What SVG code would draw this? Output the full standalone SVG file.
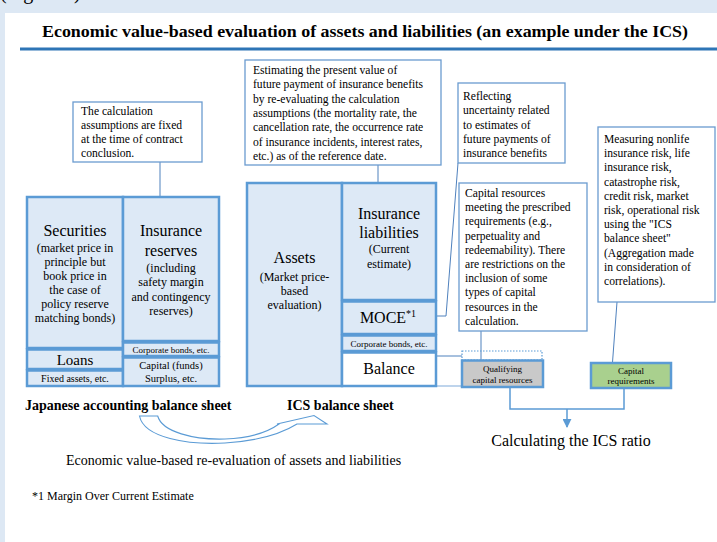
<svg xmlns="http://www.w3.org/2000/svg" width="717" height="542" viewBox="0 0 717 542">
  <style>
    text { font-family: "Liberation Serif", "Times New Roman", serif; fill: #000; }
    .big { font-size: 16px; }
    .mid { font-size: 12px; }
    .note { font-size: 11.6px; }
    .c { text-anchor: middle; }
    .b { font-weight: bold; }
    .sheet { fill: #dde9f6; stroke: #5b9bd5; stroke-width: 2.5; }
    .white { fill: #ffffff; stroke: #5b9bd5; stroke-width: 2.5; }
    .callout { fill: #ffffff; stroke: #6a9bd0; stroke-width: 1.3; }
    .conn { fill: none; stroke: #4f81bd; stroke-width: 1; }
    .brace { fill: none; stroke: #5b9bd5; stroke-width: 1.5; }
  </style>
  <defs>
    <marker id="arrow" viewBox="0 0 10 10" refX="9" refY="5" markerWidth="6" markerHeight="6" orient="auto">
      <path d="M0,0 L10,5 L0,10 z" fill="#5b9bd5"/>
    </marker>
  </defs>

  <!-- page background and panel -->
  <rect x="0" y="0" width="717" height="542" fill="#dde8f4"/>
  <text x="0" y="-1.5" font-size="20">(Figure 2)</text>
  <rect x="5" y="13" width="712" height="529" fill="#ffffff"/>

  <!-- heading -->
  <g id="title">
    <text x="365" y="37" class="c b" font-size="16" textLength="646" lengthAdjust="spacingAndGlyphs">Economic value-based evaluation of assets and liabilities (an example under the ICS)</text>
    <rect x="20" y="47.5" width="697" height="3" fill="#2e75b6"/>
  </g>

  <!-- connectors -->
  <g id="connectors">
    <line class="conn" x1="160" y1="162" x2="160" y2="212"/>
    <line class="conn" x1="378" y1="165" x2="378" y2="198"/>
    <polyline class="conn" points="431,316 446,316 458,163"/>
    <line class="conn" x1="481" y1="331" x2="481" y2="362"/>
    <line class="conn" x1="617" y1="302" x2="612" y2="369"/>
    <line class="conn" x1="418" y1="356" x2="462" y2="356"/>
    <line x1="437" y1="386" x2="462" y2="386" stroke="#a9c6e6" stroke-width="1.5"/>
    <polyline class="brace" points="510,388 510,409 624,409 624,389"/>
    <line class="brace" x1="567" y1="409" x2="567" y2="427" marker-end="url(#arrow)"/>
  </g>

  <!-- Japanese accounting balance sheet -->
  <g id="jp-securities">
    <rect class="sheet" x="27" y="197" width="96" height="151"/>
    <text class="big c" x="75" y="236">Securities</text>
    <text class="mid c" x="75" y="252">(market price in</text>
    <text class="mid c" x="75" y="266">principle but</text>
    <text class="mid c" x="75" y="280">book price in</text>
    <text class="mid c" x="75" y="294">the case of</text>
    <text class="mid c" x="75" y="308">policy reserve</text>
    <text class="mid c" x="75" y="322">matching bonds)</text>
  </g>
  <g id="jp-loans">
    <rect class="sheet" x="27" y="349.5" width="96" height="19.5"/>
    <text class="c" x="75" y="365" font-size="15">Loans</text>
  </g>
  <g id="jp-fixed">
    <rect class="sheet" x="27" y="370.5" width="96" height="15.5"/>
    <text class="c" x="75" y="382" font-size="10">Fixed assets, etc.</text>
  </g>
  <g id="jp-reserves">
    <rect class="sheet" x="123" y="197" width="96" height="144"/>
    <text class="big c" x="171" y="236">Insurance</text>
    <text class="big c" x="171" y="256">reserves</text>
    <text class="mid c" x="171" y="272">(including</text>
    <text class="mid c" x="171" y="286">safety margin</text>
    <text class="mid c" x="171" y="300.5">and contingency</text>
    <text class="mid c" x="171" y="315">reserves)</text>
  </g>
  <g id="jp-bonds">
    <rect class="sheet" x="123" y="342.5" width="96" height="13.5"/>
    <text class="c" x="171" y="352.5" font-size="9">Corporate bonds, etc.</text>
  </g>
  <g id="jp-capital">
    <rect class="sheet" x="123" y="357.5" width="96" height="28.5"/>
    <text class="c" x="171" y="368.5" font-size="10.5">Capital (funds)</text>
    <text class="c" x="171" y="382" font-size="10.5">Surplus, etc.</text>
  </g>
  <g id="jp-note">
    <rect class="callout" x="73" y="102" width="129" height="60"/>
    <text class="note" x="81" y="115">The calculation</text>
    <text class="note" x="81" y="129">assumptions are fixed</text>
    <text class="note" x="81" y="143">at the time of contract</text>
    <text class="note" x="81" y="157">conclusion.</text>
  </g>

  <!-- ICS balance sheet -->
  <g id="ics-assets">
    <rect class="sheet" x="247" y="183" width="95" height="203"/>
    <text class="big c" x="294.5" y="263">Assets</text>
    <text class="mid c" x="294.5" y="281">(Market price-</text>
    <text class="mid c" x="294.5" y="295">based</text>
    <text class="mid c" x="294.5" y="309">evaluation)</text>
  </g>
  <g id="ics-liabilities">
    <rect class="sheet" x="342" y="183" width="94" height="117"/>
    <text class="big c" x="389" y="219">Insurance</text>
    <text class="big c" x="389" y="238">liabilities</text>
    <text class="mid c" x="389" y="253">(Current</text>
    <text class="mid c" x="389" y="268">estimate)</text>
  </g>
  <g id="ics-moce">
    <rect class="sheet" x="342" y="301.5" width="94" height="32.5"/>
    <text class="big c" x="388" y="323">MOCE<tspan font-size="10" dy="-6">*1</tspan></text>
  </g>
  <g id="ics-bonds">
    <rect class="sheet" x="342" y="335.5" width="94" height="15.5"/>
    <text class="c" x="389" y="346.5" font-size="9">Corporate bonds, etc.</text>
  </g>
  <g id="ics-balance">
    <rect class="white" x="342" y="352.5" width="94" height="33.5"/>
    <text class="big c" x="389" y="374">Balance</text>
  </g>
  <g id="ics-note">
    <rect class="callout" x="245" y="60" width="196" height="105"/>
    <text class="note" x="253" y="74">Estimating the present value of</text>
    <text class="note" x="253" y="88.3">future payment of insurance benefits</text>
    <text class="note" x="253" y="102.6">by re-evaluating the calculation</text>
    <text class="note" x="253" y="116.9">assumptions (the mortality rate, the</text>
    <text class="note" x="253" y="131.2">cancellation rate, the occurrence rate</text>
    <text class="note" x="253" y="145.5">of insurance incidents, interest rates,</text>
    <text class="note" x="253" y="159.8">etc.) as of the reference date.</text>
  </g>
  <g id="moce-note">
    <rect class="callout" x="458" y="83" width="107" height="80"/>
    <text class="note" x="463" y="100">Reflecting</text>
    <text class="note" x="463" y="114">uncertainty related</text>
    <text class="note" x="463" y="128.5">to estimates of</text>
    <text class="note" x="463" y="143">future payments of</text>
    <text class="note" x="463" y="157">insurance benefits</text>
  </g>

  <!-- ICS ratio components -->
  <g id="capital-note">
    <rect class="callout" x="459" y="183" width="128" height="148"/>
    <text class="note" x="465" y="197">Capital resources</text>
    <text class="note" x="465" y="211.2">meeting the prescribed</text>
    <text class="note" x="465" y="225.4">requirements (e.g.,</text>
    <text class="note" x="465" y="239.6">perpetuality and</text>
    <text class="note" x="465" y="253.8">redeemability). There</text>
    <text class="note" x="465" y="268">are restrictions on the</text>
    <text class="note" x="465" y="282.2">inclusion of some</text>
    <text class="note" x="465" y="296.4">types of capital</text>
    <text class="note" x="465" y="310.6">resources in the</text>
    <text class="note" x="465" y="324.8">calculation.</text>
  </g>
  <g id="risk-note">
    <rect class="callout" x="598" y="127" width="117" height="175"/>
    <text class="note" x="604" y="143">Measuring nonlife</text>
    <text class="note" x="604" y="157.2">insurance risk, life</text>
    <text class="note" x="604" y="171.4">insurance risk,</text>
    <text class="note" x="604" y="185.6">catastrophe risk,</text>
    <text class="note" x="604" y="199.8">credit risk, market</text>
    <text class="note" x="604" y="214">risk, operational risk</text>
    <text class="note" x="604" y="228.2">using the "ICS</text>
    <text class="note" x="604" y="242.4">balance sheet"</text>
    <text class="note" x="604" y="256.6">(Aggregation made</text>
    <text class="note" x="604" y="270.8">in consideration of</text>
    <text class="note" x="604" y="285">correlations).</text>
  </g>
  <g id="qualifying">
    <rect x="462" y="351" width="80" height="9" fill="none" stroke="#5b9bd5" stroke-width="1.2" stroke-dasharray="1.5,1.5"/>
    <rect x="462" y="360.5" width="81" height="26.5" fill="#c9c9c9" stroke="#5b9bd5" stroke-width="2.5"/>
    <text class="c" x="502.5" y="372" font-size="9">Qualifying</text>
    <text class="c" x="502.5" y="382.5" font-size="9">capital resources</text>
  </g>
  <g id="requirements">
    <rect x="591" y="363" width="80" height="25" fill="#a9d08e" stroke="#5b9bd5" stroke-width="2.5"/>
    <text class="c" x="631" y="373.5" font-size="9">Capital</text>
    <text class="c" x="631" y="384" font-size="9">requirements</text>
  </g>
  <g id="ics-ratio">
    <text class="c" x="571" y="446" font-size="16">Calculating the ICS ratio</text>
  </g>

  <!-- captions and re-evaluation arrow -->
  <g id="captions">
    <text class="b" x="25" y="410" font-size="14">Japanese accounting balance sheet</text>
    <text class="b" x="287" y="410" font-size="14">ICS balance sheet</text>
  </g>
  <g id="reevaluation">
    <path d="M139.5,416 C144,438 188,445 225,443 C256,441 281,434 297,424 L327,424 L314,415.5 L277,424 L279,424 C268,432 250,438 225,439 C194,440 162,432 157.7,416 Z" fill="#ffffff" stroke="#5b9bd5" stroke-width="1.1"/>
    <text x="66" y="465" font-size="14">Economic value-based re-evaluation of assets and liabilities</text>
  </g>
  <text x="32" y="500" font-size="12">*1 Margin Over Current Estimate</text>
</svg>
